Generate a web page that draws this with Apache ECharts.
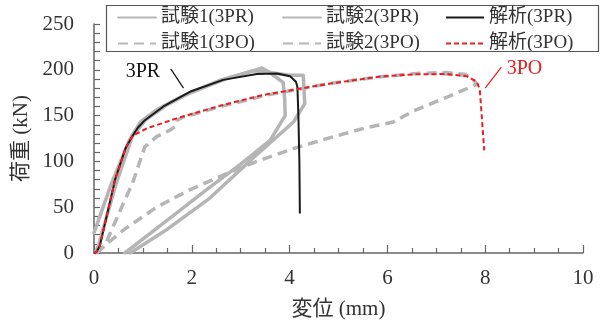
<!DOCTYPE html>
<html>
<head>
<meta charset="utf-8">
<script src="https://cdn.jsdelivr.net/npm/echarts@6/dist/echarts.min.js"></script>
<style>
  html, body { margin: 0; padding: 0; background: #fff; }
  #chart { width: 604px; height: 327px; }
</style>
</head>
<body>
<div id="chart"></div>
<script>
// Load-displacement curves: [displacement (mm), load (kN)]
const test1_3PR = [[0,22],[0.35,75],[0.72,123],[0.95,143],[1.3,157],[1.8,171],[2.3,182],[2.8,192],[3.2,198],[3.43,202],[3.6,197],[3.87,186],[3.9,168],[3.91,150],[3.6,123],[3.0,97],[2.37,72],[1.5,36],[0.63,0]];
const test2_3PR = [[0.03,0],[0.1,10],[0.45,75],[0.78,127],[1.05,145],[1.5,162],[2.0,176],[2.6,189],[3.0,195],[3.26,199],[3.6,197],[4.01,194],[4.28,194],[4.31,163],[4.08,143],[3.3,106],[2.37,60],[1.5,26],[0.74,0]];
const analysis_3PR = [[0,0],[0.05,1],[0.12,8],[0.43,80],[0.65,115],[0.79,128],[0.9,137],[1.04,145],[1.42,160],[1.96,176],[2.64,189],[3.33,195.4],[3.74,196],[4.01,193],[4.13,187],[4.16,181],[4.18,150],[4.2,100],[4.21,43]];
const test1_3PO = [[0.05,0],[0.22,8],[0.5,42],[0.8,78],[1.04,116],[1.28,127],[1.55,134],[1.66,138],[1.7,145],[1.8,148],[2.6,160],[3.5,172],[4.8,185],[5.8,192],[6.6,196],[7.2,197],[7.62,195]];
const test2_3PO = [[0.05,0],[0.22,8],[0.6,25],[1.28,50],[1.96,69],[2.64,85],[3.33,100],[4.14,115],[4.83,126],[5.51,136],[6.12,143],[6.53,155],[7.21,170],[7.65,180],[7.83,184],[7.75,190],[7.62,194],[7.0,196]];
const analysis_3PO = [[0,0],[0.05,1],[0.12,8],[0.43,80],[0.65,115],[0.79,128],[1.08,136],[1.69,147],[2.64,161.6],[3.46,172.5],[4.83,185],[5.85,192.6],[6.53,195],[7.21,195.4],[7.62,193],[7.83,187],[7.89,178],[7.93,149],[7.98,112]];

const seriesNames = ['試験1(3PR)', '試験2(3PR)', '解析(3PR)', '試験1(3PO)', '試験2(3PO)', '解析(3PO)'];
const xTicks = { min: 0, max: 10, step: 2 };
const yTicks = { min: 0, max: 250, step: 50 };

// Callout labels, anchored in data space
const callouts = [
  { text: '3PR', color: '#111', textAt: [1.0, 198], textAlign: 'center', from: [1.57, 201], to: [1.83, 180] },
  { text: '3PO', color: '#ee1c1c', textAt: [8.44, 201], textAlign: 'left', from: [8.33, 203], to: [8.0, 180] }
];

const SERIF = '"Liberation Serif", "Times New Roman", "Noto Sans CJK JP", serif';
const GREY = '#b5b5b5';

const chart = echarts.init(document.getElementById('chart'), null, { renderer: 'canvas' });

function lineSeries(name, data, style, z) {
  return {
    name: name, type: 'line', data: data, showSymbol: false, symbol: 'none',
    smooth: false, z: z, lineStyle: style, itemStyle: { color: style.color },
    emphasis: { disabled: true }, animation: false
  };
}

const greySolid = { color: GREY, width: 3.5, type: 'solid', cap: 'round', join: 'round' };
const greyDash = { color: GREY, width: 3.5, type: [10, 6], cap: 'butt', join: 'round' };
const blackLine = { color: '#1a1a1a', width: 2, type: 'solid', join: 'round' };
const redDash = { color: '#ee1c1c', width: 2, type: [5, 3], join: 'round' };

const legendText = { fontFamily: SERIF, fontSize: 19, color: '#333' };
function legendCol(left, names) {
  return {
    orient: 'vertical', left: left, top: 8, itemWidth: 38, itemHeight: 14, itemGap: 7,
    data: names, textStyle: legendText, padding: 0, selectedMode: false,
    itemStyle: { opacity: 0 }
  };
}

chart.setOption({
  animation: false,
  grid: { left: 94, right: 21, top: 24, bottom: 74, containLabel: false },
  xAxis: {
    type: 'value', min: xTicks.min, max: xTicks.max, interval: xTicks.step,
    name: '変位 (mm)', nameLocation: 'middle', nameGap: 46,
    nameTextStyle: { fontFamily: SERIF, fontSize: 21, color: '#333' },
    axisLine: { onZero: false, lineStyle: { color: '#666', width: 1.5 } },
    axisTick: { inside: true, length: 8, lineStyle: { color: '#666', width: 1.2 } },
    minorTick: { show: true, splitNumber: 4, length: 5, lineStyle: { color: '#666', width: 1.2 } },
    splitLine: { show: false },
    axisLabel: { fontFamily: SERIF, fontSize: 21, color: '#333', margin: 15 }
  },
  yAxis: {
    type: 'value', min: yTicks.min, max: yTicks.max, interval: yTicks.step,
    name: '荷重 (kN)', nameLocation: 'middle', nameGap: 62, nameRotate: 90,
    nameTextStyle: { fontFamily: SERIF, fontSize: 21, color: '#333' },
    axisLine: { show: true, onZero: false, lineStyle: { color: '#666', width: 1.5 } },
    axisTick: { show: true, inside: true, length: 6, lineStyle: { color: '#666', width: 1.2 } },
    minorTick: { show: true, splitNumber: 5, length: 6, lineStyle: { color: '#666', width: 1.2 } },
    splitLine: { show: false },
    axisLabel: { fontFamily: SERIF, fontSize: 21, color: '#333', margin: 20 }
  },
  legend: [
    legendCol(117, [seriesNames[0], seriesNames[3]]),
    legendCol(282, [seriesNames[1], seriesNames[4]]),
    legendCol(445, [seriesNames[2], seriesNames[5]])
  ],
  series: [
    lineSeries(seriesNames[0], test1_3PR, greySolid, 2),
    lineSeries(seriesNames[1], test2_3PR, greySolid, 2),
    lineSeries(seriesNames[3], test1_3PO, greyDash, 2),
    lineSeries(seriesNames[4], test2_3PO, greyDash, 2),
    lineSeries(seriesNames[2], analysis_3PR, blackLine, 4),
    lineSeries(seriesNames[5], analysis_3PO, redDash, 5)
  ]
});

// Legend frame and callouts
function drawOverlay() {
  const els = [{
    type: 'rect', shape: { x: 106.5, y: 5.5, width: 492, height: 46 },
    style: { fill: 'rgba(0,0,0,0)', stroke: '#555', lineWidth: 1.2 }, z: 10
  }];
  callouts.forEach(c => {
    const t = chart.convertToPixel({ gridIndex: 0 }, c.textAt);
    const a = chart.convertToPixel({ gridIndex: 0 }, c.from);
    const b = chart.convertToPixel({ gridIndex: 0 }, c.to);
    els.push({
      type: 'text', x: t[0], y: t[1], z: 10,
      style: { text: c.text, fill: c.color, font: '20px ' + SERIF, align: c.textAlign, verticalAlign: 'middle' }
    });
    els.push({
      type: 'line', z: 10, shape: { x1: a[0], y1: a[1], x2: b[0], y2: b[1] },
      style: { stroke: c.color, lineWidth: 1.2 }
    });
  });
  chart.setOption({ graphic: els });
}
drawOverlay();
</script>
</body>
</html>
